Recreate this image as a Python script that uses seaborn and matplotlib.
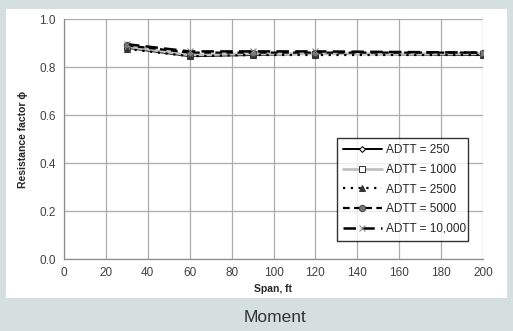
import matplotlib
matplotlib.use("Agg")
import matplotlib.pyplot as plt
import matplotlib.patches as mpatches
import seaborn as sns
import pandas as pd

spans = [30, 60, 90, 120, 200]
adtt_250 = [0.880, 0.845, 0.850, 0.855, 0.850]
adtt_1000 = [0.885, 0.850, 0.855, 0.855, 0.855]
adtt_2500 = [0.875, 0.845, 0.850, 0.850, 0.850]
adtt_5000 = [0.890, 0.860, 0.860, 0.860, 0.860]
adtt_10000 = [0.895, 0.865, 0.865, 0.865, 0.860]
labels = ["ADTT = 250", "ADTT = 1000", "ADTT = 2500", "ADTT = 5000", "ADTT = 10,000"]
series = [adtt_250, adtt_1000, adtt_2500, adtt_5000, adtt_10000]

sns.set_style("white")
plt.rcParams['font.family'] = ['Liberation Sans', 'DejaVu Sans']

fig = plt.figure(figsize=(5.13, 3.31), dpi=100)
fig.patch.set_facecolor('#d5dfde')
fig.add_artist(mpatches.Rectangle((6/513, 1-298/331), 501/513, 289/331,
                                  transform=fig.transFigure, facecolor='white',
                                  edgecolor='none', zorder=0))
ax = fig.add_axes([64/513, 1-259/331, 419/513, 240/331])
ax.set_facecolor('none')

styles = [
    dict(color='black', linestyle='-', linewidth=1.4, marker='D', markersize=3,
         markerfacecolor='white', markeredgecolor='black'),
    dict(color='#c0c0c0', linestyle='-', linewidth=2.0, marker='s', markersize=4,
         markerfacecolor='white', markeredgecolor='#333333'),
    dict(color='black', linestyle=(0, (1, 2.5)), linewidth=1.6, marker='^', markersize=4,
         markerfacecolor='#333333', markeredgecolor='#333333'),
    dict(color='black', linestyle=(0, (3, 2)), linewidth=1.6, marker='o', markersize=4.5,
         markerfacecolor='#777777', markeredgecolor='#444444'),
    dict(color='black', linestyle=(0, (5, 2.5)), linewidth=1.8, marker='x', markersize=4,
         markerfacecolor='#888888', markeredgecolor='#888888'),
]

for lab, vals, st in zip(labels, series, styles):
    df = pd.DataFrame({"Span": spans, "phi": vals})
    sns.lineplot(data=df, x="Span", y="phi", ax=ax, label=lab, **st)

ax.set_xlim(0, 200)
ax.set_ylim(0, 1.0)
ax.set_xticks(range(0, 201, 20))
ax.set_yticks([0.0, 0.2, 0.4, 0.6, 0.8, 1.0])
ax.set_yticklabels([f"{v:.1f}" for v in [0.0, 0.2, 0.4, 0.6, 0.8, 1.0]])
ax.grid(True, color='#ababab', linewidth=0.9)
ax.set_axisbelow(True)
for s in ['top', 'right']:
    ax.spines[s].set_visible(False)
for s in ['left', 'bottom']:
    ax.spines[s].set_color('#8c8c8c')
    ax.spines[s].set_linewidth(0.9)
ax.tick_params(axis='both', direction='out', length=3, color='#8c8c8c',
               labelsize=8.5, labelcolor='#404040', pad=3, width=0.9)
ax.set_xlabel("Span, ft", fontsize=7.5, fontweight='bold', labelpad=3)
ax.set_ylabel("Resistance factor ϕ", fontsize=7.5, fontweight='bold', labelpad=8)

leg = ax.legend(loc='lower left', bbox_to_anchor=(0.637, 0.051, 0.341, 0.392),
                mode='expand', fontsize=8.5, frameon=True, fancybox=False,
                borderpad=0.5, labelspacing=0.65, handlelength=3.3, handletextpad=0.4)
leg.get_frame().set_edgecolor('black')
leg.get_frame().set_linewidth(1.0)

fig.text(275/513, 1-318/331, "Moment", ha='center', va='center', fontsize=12.5,
         color='#333333')

fig.savefig("out.png", dpi=100, facecolor=fig.get_facecolor())
